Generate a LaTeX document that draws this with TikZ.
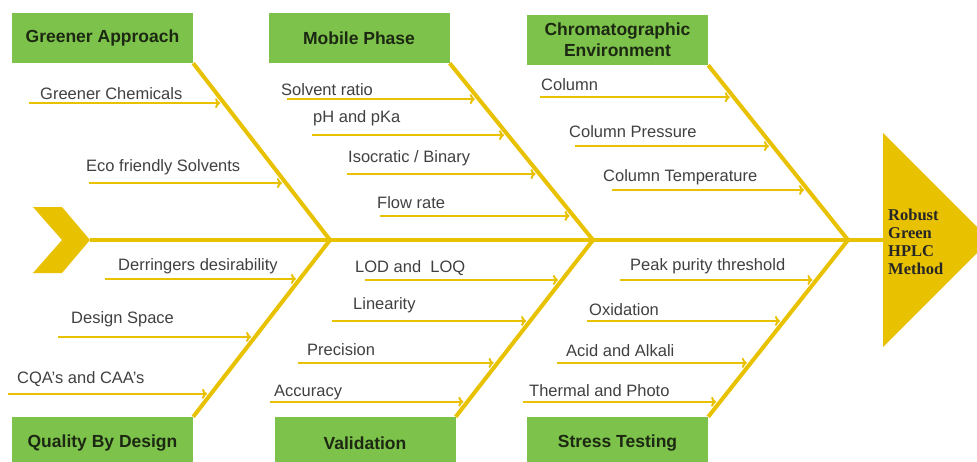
\documentclass[tikz,border=0pt]{standalone}
\usepackage{fontspec}
\setmainfont{Liberation Sans}
\newfontfamily\goalfont{Liberation Serif}
\usepackage{tikz}
\usetikzlibrary{arrows, arrows.meta, positioning, calc}
\definecolor{boneyellow}{RGB}{232,193,0}
\definecolor{causegreen}{RGB}{125,195,75}
\definecolor{causetext}{RGB}{28,40,18}
\definecolor{labelgray}{RGB}{64,64,64}

\begin{document}
\begin{tikzpicture}[x=1pt, y=-1pt, >={To[length=5pt, width=10pt]},
  cause/.style={rectangle, fill=causegreen, minimum width=181pt, minimum height=50pt, inner sep=0pt, align=center, text=causetext, font=\fontsize{17.5}{21}\selectfont\bfseries},
  lbl/.style={anchor=base west, inner sep=0pt, text=labelgray, font=\fontsize{16.5}{20}\selectfont},
  bone/.style={draw=boneyellow, line width=4pt},
  sub/.style={->, draw=boneyellow, line width=2pt, shorten >=4pt}]
\useasboundingbox (0,0) rectangle (977,461);
\clip (0,0) rectangle (977,461);

% Spine
\coordinate (tail) at (90,240);
\coordinate (head) at (883,240);
\coordinate (j1) at (330,240);
\coordinate (j2) at (593,240);
\coordinate (j3) at (848,240);
\fill[boneyellow] (33,207) -- (62,207) -- (tail) -- (62,273) -- (33,273) -- (62,240) -- cycle;
\fill[boneyellow] (head |- 0,133) -- (990,240) -- (head |- 0,347) -- cycle;
\draw[bone] (tail) -- (head);
\node[anchor=west, align=left, inner sep=0pt, text=black!85, font=\goalfont\fontsize{16.5}{18}\selectfont\bfseries] (goal) at (888,242) {Robust\\Green\\HPLC\\Method};

% Causes above the spine
\node[cause] (ga) at (102.5,38) {Greener Approach};
\node[cause] (mp) at (359,38) {Mobile Phase};
\node[cause] (ce) at (617.5,40) {Chromatographic\\Environment};

% Causes below the spine
\node[cause, minimum height=53pt] (qbd) at (102.5,443.5) {Quality By Design};
\node[cause, minimum height=53pt] (val) at (365,443.5) {Validation};
\node[cause, minimum height=53pt] (st) at (617.5,443.5) {Stress Testing};

% Ribs
\draw[bone] (ga.south east) -- (j1) coordinate[pos=.226] (ga1) coordinate[pos=.678] (ga2);
\draw[bone] (mp.south east) -- (j2) coordinate[pos=.203] (mp1) coordinate[pos=.407] (mp2) coordinate[pos=.627] (mp3) coordinate[pos=.864] (mp4);
\draw[bone] (ce.south east) -- (j3) coordinate[pos=.183] (ce1) coordinate[pos=.463] (ce2) coordinate[pos=.714] (ce3);
\draw[bone] (qbd.north east) -- (j1) coordinate[pos=.780] (qbd1) coordinate[pos=.452] (qbd2) coordinate[pos=.130] (qbd3);
\draw[bone] (val.north east) -- (j2) coordinate[pos=.774] (val1) coordinate[pos=.542] (val2) coordinate[pos=.305] (val3) coordinate[pos=.085] (val4);
\draw[bone] (st.north east) -- (j3) coordinate[pos=.774] (st1) coordinate[pos=.542] (st2) coordinate[pos=.305] (st3) coordinate[pos=.085] (st4);

% Greener approach
\node[lbl] (chem) at (40,99.3) {Greener Chemicals};
\draw[sub] (ga1 -| 29,0) -- (ga1);
\node[lbl] (eco) at (86,171.7) {Eco friendly Solvents};
\draw[sub] (ga2 -| 89,0) -- (ga2);

% Mobile phase
\node[lbl] (ratio) at (281,95) {Solvent ratio};
\draw[sub] (mp1 -| 287,0) -- (mp1);
\node[lbl] (ph) at (313,122.7) {pH and pKa};
\draw[sub] (mp2 -| 312,0) -- (mp2);
\node[lbl] (iso) at (348,162.7) {Isocratic / Binary};
\draw[sub] (mp3 -| 347,0) -- (mp3);
\node[lbl] (flow) at (377,208.3) {Flow rate};
\draw[sub] (mp4 -| 380,0) -- (mp4);

% Chromatographic environment
\node[lbl] (col) at (541,90) {Column};
\draw[sub] (ce1 -| 540,0) -- (ce1);
\node[lbl] (press) at (569,137.3) {Column Pressure};
\draw[sub] (ce2 -| 575,0) -- (ce2);
\node[lbl] (temp) at (603,181.7) {Column Temperature};
\draw[sub] (ce3 -| 612,0) -- (ce3);

% Quality by design
\node[lbl] (derr) at (118,270.7) {Derringers desirability};
\draw[sub] (qbd1 -| 105,0) -- (qbd1);
\node[lbl] (space) at (71,323.3) {Design Space};
\draw[sub] (qbd2 -| 58,0) -- (qbd2);
\node[lbl] (cqa) at (17,383.3) {CQA’s and CAA’s};
\draw[sub] (qbd3 -| 8,0) -- (qbd3);

% Validation
\node[lbl] (lod) at (355,272.7) {LOD and \ LOQ};
\draw[sub] (val1 -| 365,0) -- (val1);
\node[lbl] (lin) at (353,309.3) {Linearity};
\draw[sub] (val2 -| 332,0) -- (val2);
\node[lbl] (prec) at (307,355) {Precision};
\draw[sub] (val3 -| 298,0) -- (val3);
\node[lbl] (acc) at (274,396.7) {Accuracy};
\draw[sub] (val4 -| 270,0) -- (val4);

% Stress testing
\node[lbl] (peak) at (630,270.7) {Peak purity threshold};
\draw[sub] (st1 -| 620,0) -- (st1);
\node[lbl] (oxi) at (589,315) {Oxidation};
\draw[sub] (st2 -| 587,0) -- (st2);
\node[lbl] (acid) at (566,356) {Acid and Alkali};
\draw[sub] (st3 -| 557,0) -- (st3);
\node[lbl] (therm) at (529,396.7) {Thermal and Photo};
\draw[sub] (st4 -| 523,0) -- (st4);
\end{tikzpicture}
\end{document}
